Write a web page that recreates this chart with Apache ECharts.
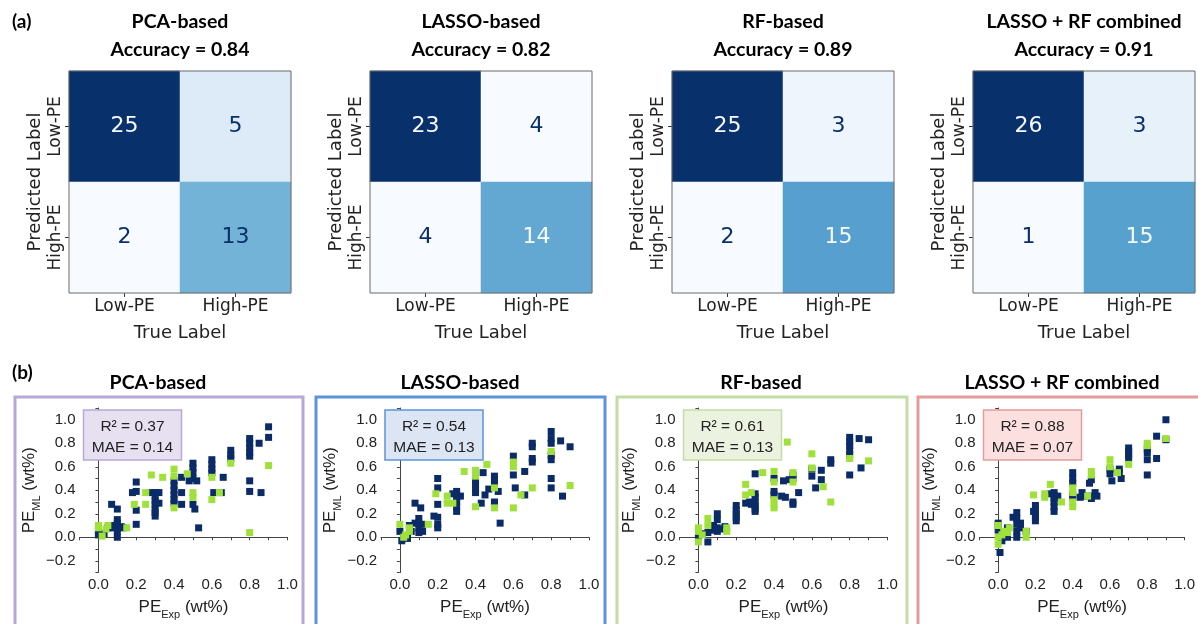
<!DOCTYPE html>
<html><head><meta charset="utf-8">
<script src="https://cdn.jsdelivr.net/npm/echarts@6/dist/echarts.min.js"></script>
<style>html,body{margin:0;padding:0;background:#fff}#c{width:1198px;height:624px}</style>
</head><body><div id="c"></div>
<script>
// ---------- DATA ----------
const models = ['PCA-based', 'LASSO-based', 'RF-based', 'LASSO + RF combined'];
const accuracies = ['0.84', '0.82', '0.89', '0.91'];
const cmLabels = ['Low-PE', 'High-PE'];
// rows: predicted Low-PE, High-PE ; cols: true Low-PE, High-PE
const cmPCA = [[25, 5], [2, 13]];
const cmLASSO = [[23, 4], [4, 14]];
const cmRF = [[25, 3], [2, 15]];
const cmCombined = [[26, 3], [1, 15]];
const r2Values = ['0.37', '0.54', '0.61', '0.88'];
const maeValues = ['0.14', '0.13', '0.13', '0.07'];

const pcaNavy = [[0.9,0.94],[0.9,0.85],[0.85,0.8],[0.8,0.84],[0.8,0.8],[0.8,0.76],[0.8,0.72],[0.8,0.69],[0.8,0.48],[0.8,0.39],[0.86,0.38],
 [0.7,0.74],[0.7,0.7],[0.7,0.67],[0.66,0.51],[0.6,0.66],[0.6,0.62],[0.6,0.58],[0.6,0.55],[0.61,0.38],[0.65,0.38],
 [0.5,0.63],[0.5,0.59],[0.5,0.55],[0.5,0.5],[0.48,0.48],[0.52,0.48],[0.44,0.51],[0.44,0.38],[0.44,0.28],[0.5,0.28],[0.51,0.24],[0.53,0.08],
 [0.4,0.48],[0.4,0.44],[0.4,0.4],[0.4,0.36],[0.4,0.32],[0.4,0.29],
 [0.3,0.38],[0.3,0.35],[0.3,0.31],[0.3,0.28],[0.3,0.24],[0.3,0.21],[0.3,0.18],[0.32,0.38],[0.32,0.29],[0.28,0.38],
 [0.2,0.47],[0.18,0.38],[0.2,0.39],[0.2,0.23],[0.2,0.11],[0.07,0.28],[0.1,0.24],
 [0.0,0.05],[0.0,0.02],[0.03,0.03],[0.05,0.08],[0.07,0.08],[0.1,0.12],[0.1,0.08],[0.1,0.05],[0.1,0.0],[0.12,0.09],[0.08,0.1],[0.13,0.08],[0.1,0.15]];
const pcaGreen = [[0.9,0.61],[0.8,0.04],[0.7,0.63],[0.6,0.51],[0.64,0.38],[0.6,0.32],[0.5,0.38],[0.5,0.34],[0.47,0.54],[0.4,0.58],[0.4,0.52],[0.4,0.25],
 [0.34,0.51],[0.28,0.53],[0.25,0.38],[0.25,0.28],[0.19,0.28],[0.15,0.08],[0.0,0.08],[0.02,0.01],[0.05,0.1],[0.04,0.07],[0.0,0.1]];

const lassoNavy = [[0.8,0.9],[0.8,0.84],[0.8,0.8],[0.8,0.7],[0.8,0.66],[0.85,0.82],[0.9,0.77],[0.8,0.5],[0.8,0.42],[0.86,0.35],
 [0.7,0.8],[0.7,0.77],[0.7,0.67],[0.7,0.64],[0.66,0.56],[0.66,0.36],[0.6,0.69],[0.6,0.53],[0.61,0.42],
 [0.5,0.52],[0.5,0.49],[0.5,0.46],[0.52,0.39],[0.5,0.3],[0.5,0.28],[0.47,0.41],[0.45,0.36],[0.43,0.29],[0.44,0.55],[0.53,0.12],
 [0.4,0.48],[0.4,0.45],[0.4,0.41],[0.4,0.38],
 [0.3,0.39],[0.3,0.36],[0.3,0.33],[0.3,0.3],[0.3,0.26],[0.3,0.22],[0.28,0.37],[0.32,0.35],
 [0.2,0.5],[0.2,0.42],[0.2,0.28],[0.2,0.17],[0.2,0.11],[0.2,0.08],[0.18,0.18],[0.08,0.29],[0.11,0.25],
 [0.0,0.05],[0.01,-0.03],[0.04,-0.01],[0.05,0.1],[0.08,0.12],[0.1,0.16],[0.1,0.12],[0.1,0.08],[0.12,0.05],[0.06,0.05],[0.1,0.04],[0.12,0.11]];
const lassoGreen = [[0.8,0.73],[0.9,0.44],[0.7,0.42],[0.6,0.64],[0.6,0.6],[0.64,0.36],[0.6,0.25],[0.5,0.42],[0.5,0.25],[0.46,0.62],[0.4,0.57],[0.4,0.52],[0.4,0.26],
 [0.34,0.56],[0.25,0.35],[0.25,0.29],[0.28,0.29],[0.19,0.37],[0.15,0.11],[0.0,0.11],[0.02,0.0],[0.05,0.05],[0.05,0.08],[0.03,0.02]];

const rfNavy = [[0.8,0.85],[0.8,0.81],[0.8,0.78],[0.8,0.74],[0.8,0.7],[0.85,0.84],[0.9,0.83],[0.86,0.59],[0.8,0.53],
 [0.7,0.66],[0.7,0.63],[0.65,0.57],[0.65,0.49],[0.62,0.42],[0.6,0.58],[0.6,0.52],
 [0.5,0.53],[0.5,0.5],[0.48,0.49],[0.45,0.48],[0.53,0.38],[0.44,0.35],[0.46,0.34],[0.5,0.3],[0.5,0.28],
 [0.4,0.5],[0.4,0.39],[0.4,0.36],[0.3,0.54],
 [0.3,0.37],[0.3,0.34],[0.3,0.3],[0.3,0.27],[0.3,0.24],[0.3,0.22],[0.27,0.3],[0.25,0.29],[0.28,0.28],
 [0.2,0.27],[0.2,0.23],[0.2,0.2],[0.2,0.17],[0.2,0.14],
 [0.1,0.2],[0.1,0.15],[0.08,0.1],[0.1,0.08],[0.12,0.07],[0.14,0.09],[0.06,0.07],[0.05,0.04],[0.02,0.03],[0.05,-0.04],[0.0,0.0],[0.1,0.05],[0.08,0.06]];
const rfGreen = [[0.47,0.81],[0.8,0.67],[0.9,0.65],[0.7,0.3],[0.66,0.43],[0.6,0.71],[0.6,0.59],[0.5,0.55],[0.5,0.47],[0.4,0.56],[0.4,0.47],[0.4,0.32],[0.4,0.28],[0.4,0.25],
 [0.34,0.55],[0.25,0.45],[0.25,0.36],[0.28,0.38],[0.15,0.05],[0.15,0.08],[0.05,0.16],[0.05,0.1],[0.0,0.08],[0.0,0.05],[0.0,-0.04],[0.02,0.02]];

const combNavy = [[0.9,1.0],[0.9,0.83],[0.85,0.86],[0.8,0.75],[0.8,0.72],[0.8,0.66],[0.85,0.67],[0.8,0.53],
 [0.7,0.76],[0.7,0.73],[0.7,0.7],[0.7,0.67],[0.65,0.58],[0.65,0.55],[0.66,0.5],[0.6,0.58],[0.6,0.54],[0.61,0.48],
 [0.5,0.49],[0.49,0.46],[0.5,0.35],[0.5,0.33],[0.53,0.35],[0.52,0.38],[0.45,0.38],[0.46,0.35],[0.44,0.34],
 [0.4,0.55],[0.4,0.5],[0.4,0.46],[0.4,0.36],[0.4,0.34],
 [0.3,0.38],[0.3,0.36],[0.3,0.33],[0.3,0.3],[0.3,0.26],[0.3,0.22],[0.28,0.37],[0.32,0.35],
 [0.2,0.27],[0.2,0.23],[0.2,0.2],[0.2,0.17],[0.2,0.14],[0.19,0.22],
 [0.1,0.21],[0.1,0.16],[0.08,0.17],[0.1,0.11],[0.12,0.08],[0.1,0.05],[0.1,0.0],[0.05,0.08],[0.05,0.0],[0.02,0.0],[0.0,0.12],[0.0,0.06],[0.02,-0.03],[0.01,-0.13],[0.15,0.05],[0.12,0.12]];
const combGreen = [[0.9,0.84],[0.8,0.8],[0.8,0.78],[0.7,0.62],[0.6,0.66],[0.6,0.6],[0.64,0.55],[0.5,0.56],[0.5,0.53],[0.48,0.35],[0.4,0.42],[0.4,0.38],[0.4,0.3],[0.4,0.26],
 [0.34,0.3],[0.28,0.45],[0.25,0.37],[0.25,0.34],[0.19,0.36],[0.15,0.05],[0.15,0.0],[0.05,0.04],[0.06,0.08],[0.03,0.05],[0.02,0.02],[0.0,0.1],[0.0,-0.06],[0.0,0.0]];

// ---------- STYLE / LAYOUT ----------
const cms = [cmPCA, cmLASSO, cmRF, cmCombined];
const navySets = [pcaNavy, lassoNavy, rfNavy, combNavy];
const greenSets = [pcaGreen, lassoGreen, rfGreen, combGreen];
const blues = ['#f7fbff','#deebf7','#c6dbef','#9ecae1','#6baed6','#4292c6','#2171b5','#08519c','#08306b'];
const cmLeft = [69, 370, 672, 973], cmTop = 71, cmSize = 222;
const scLeft = [79.5, 381, 679.5, 979.5], scTop = 408, scW = 208, scH = 164.5;
const boxL = [15, 316, 617, 918], boxR = [303, 605, 907, 1212];
const boxCol = ['#b8a8d5', '#5b94dc', '#c4dca6', '#e39c9c'];
const annFill = ['#e6e0f0', '#dce5f4', '#ecf2e0', '#fce0e0'];
const scTitleX = [158, 460, 761, 1062];
const NAVY = '#0b2b68', GREEN = '#9fe13a';
const DV = 'DejaVu Sans', AR = 'Liberation Sans, Arial', TT = 'Lato';
const TITLE_FS = 19.5;

function fmt(v) {
  const k = Math.round(v * 10);
  if (k % 2 !== 0) return '';
  const s = (Math.abs(k) / 10).toFixed(1);
  return k < 0 ? '\u2212' + s : s;
}
const rich = {
  m: { fontSize: 17, fontFamily: AR, color: '#222', lineHeight: 26, verticalAlign: 'middle' },
  s: { fontSize: 11, fontFamily: AR, color: '#222', lineHeight: 26, verticalAlign: 'bottom' }
};

const grid = [], xAxis = [], yAxis = [], series = [], visualMap = [];

for (let i = 0; i < 4; i++) {
  const cm = cms[i];
  const flat = cm.flat();
  const mn = Math.min(...flat), mx = Math.max(...flat), th = (mn + mx) / 2;
  grid.push({ left: cmLeft[i], top: cmTop, width: cmSize, height: cmSize, show: true,
    borderColor: '#6a6a6a', borderWidth: 1, backgroundColor: 'transparent', z: 10 });
  xAxis.push({ type: 'category', gridIndex: i, data: cmLabels,
    axisLine: { show: false }, axisTick: { show: true, alignWithLabel: true, length: 4, lineStyle: { color: '#333' } },
    axisLabel: { fontSize: 17, fontFamily: DV, color: '#222', margin: 5 },
    name: 'True Label', nameLocation: 'middle', nameGap: 31,
    nameTextStyle: { fontSize: 18, fontFamily: DV, color: '#222' }, splitLine: { show: false } });
  yAxis.push({ type: 'category', gridIndex: i, data: cmLabels, inverse: true,
    axisLine: { show: false }, axisTick: { show: true, alignWithLabel: true, length: 4, lineStyle: { color: '#333' } },
    axisLabel: { fontSize: 17, fontFamily: DV, color: '#222', rotate: 90, margin: 5 },
    name: 'Predicted Label', nameLocation: 'middle', nameGap: 25,
    nameTextStyle: { fontSize: 18, fontFamily: DV, color: '#222' }, splitLine: { show: false } });
  const data = [];
  cm.forEach((row, r) => row.forEach((v, c) => {
    data.push({ value: [c, r, v], label: { color: v > th ? '#f7fbff' : '#08306b' } });
  }));
  visualMap.push({ type: 'continuous', show: false, seriesIndex: i, dimension: 2, min: mn, max: mx, inRange: { color: blues } });
  series.push({ type: 'heatmap', xAxisIndex: i, yAxisIndex: i, data: data,
    label: { show: true, fontSize: 22, fontFamily: DV, formatter: p => String(p.value[2]) },
    emphasis: { disabled: true } });
}

for (let i = 0; i < 4; i++) {
  const g = 4 + i;
  grid.push({ left: scLeft[i], top: scTop, width: scW, height: scH });
  xAxis.push({ type: 'value', gridIndex: g, min: -0.1, max: 1.0, interval: 0.1,
    axisLine: { show: true, lineStyle: { color: '#444', width: 1 } },
    axisTick: { show: true, length: 3, lineStyle: { color: '#444' } },
    axisLabel: { fontSize: 15, fontFamily: AR, color: '#222', margin: 5, formatter: fmt, showMinLabel: true, showMaxLabel: true },
    splitLine: { show: false },
    name: '{m|PE}{s|Exp}{m| (wt%)}', nameLocation: 'middle', nameGap: 22, nameTextStyle: { rich: rich } });
  yAxis.push({ type: 'value', gridIndex: g, min: -0.3, max: 1.1, interval: 0.1,
    axisLine: { show: true, lineStyle: { color: '#444', width: 1 } },
    axisTick: { show: true, length: 3, lineStyle: { color: '#444' } },
    axisLabel: { fontSize: 15, fontFamily: AR, color: '#222', margin: 4, formatter: fmt },
    splitLine: { show: false },
    name: '{m|PE}{s|ML}{m| (wt%)}', nameLocation: 'middle', nameGap: 36, nameRotate: 90, nameTextStyle: { rich: rich } });
  series.push({ type: 'scatter', xAxisIndex: g, yAxisIndex: g, data: navySets[i], symbol: 'rect', symbolSize: 7,
    itemStyle: { color: NAVY, opacity: 1 }, z: 3 });
  series.push({ type: 'scatter', xAxisIndex: g, yAxisIndex: g, data: greenSets[i], symbol: 'rect', symbolSize: 7,
    itemStyle: { color: GREEN, opacity: 1 }, z: 4 });
}

// text decorations
const els = [];
const T = (text, x, y, extra) => Object.assign({ type: 'text', style: Object.assign({ text: text, x: x, y: y, fill: '#000',
  textVerticalAlign: 'middle', verticalAlign: 'middle' }, extra) });
els.push(T('(a)', 12, 22, { fontSize: 19, fontWeight: 'bold', fontFamily: TT }));
els.push(T('(b)', 12, 373, { fontSize: 19, fontWeight: 'bold', fontFamily: TT }));
for (let i = 0; i < 4; i++) {
  const cx = cmLeft[i] + cmSize / 2;
  const tb = { fontSize: TITLE_FS, fontWeight: 'bold', fontFamily: TT, textAlign: 'center', align: 'center' };
  els.push(T(models[i], cx, 21.5, tb));
  els.push(T('Accuracy = ' + accuracies[i], cx, 49.5, tb));
  els.push(T(models[i], scTitleX[i], 383, tb));
  els.push({ type: 'rect', shape: { x: boxL[i], y: 397, width: boxR[i] - boxL[i], height: 260 },
    style: { fill: 'none', stroke: boxCol[i], lineWidth: 3 }, z: 1 });
  const ax = scLeft[i] + 4;
  els.push({ type: 'rect', shape: { x: ax, y: 410, width: 98, height: 50 },
    style: { fill: annFill[i], stroke: boxCol[i], lineWidth: 1.5 }, z: 5 });
  const ta = { fontSize: 15.5, fontFamily: AR, fill: '#222', textAlign: 'center', align: 'center' };
  const t1 = T('R\u00b2 = ' + r2Values[i], ax + 49, 426.5, ta); t1.z = 6; els.push(t1);
  const t2 = T('MAE = ' + maeValues[i], ax + 49, 447.5, ta); t2.z = 6; els.push(t2);
}

const chart = echarts.init(document.getElementById('c'), null, { renderer: 'canvas' });
chart.setOption({
  animation: false,
  backgroundColor: '#fff',
  grid: grid, xAxis: xAxis, yAxis: yAxis, visualMap: visualMap, series: series,
  graphic: { elements: els }
});
</script></body></html>
